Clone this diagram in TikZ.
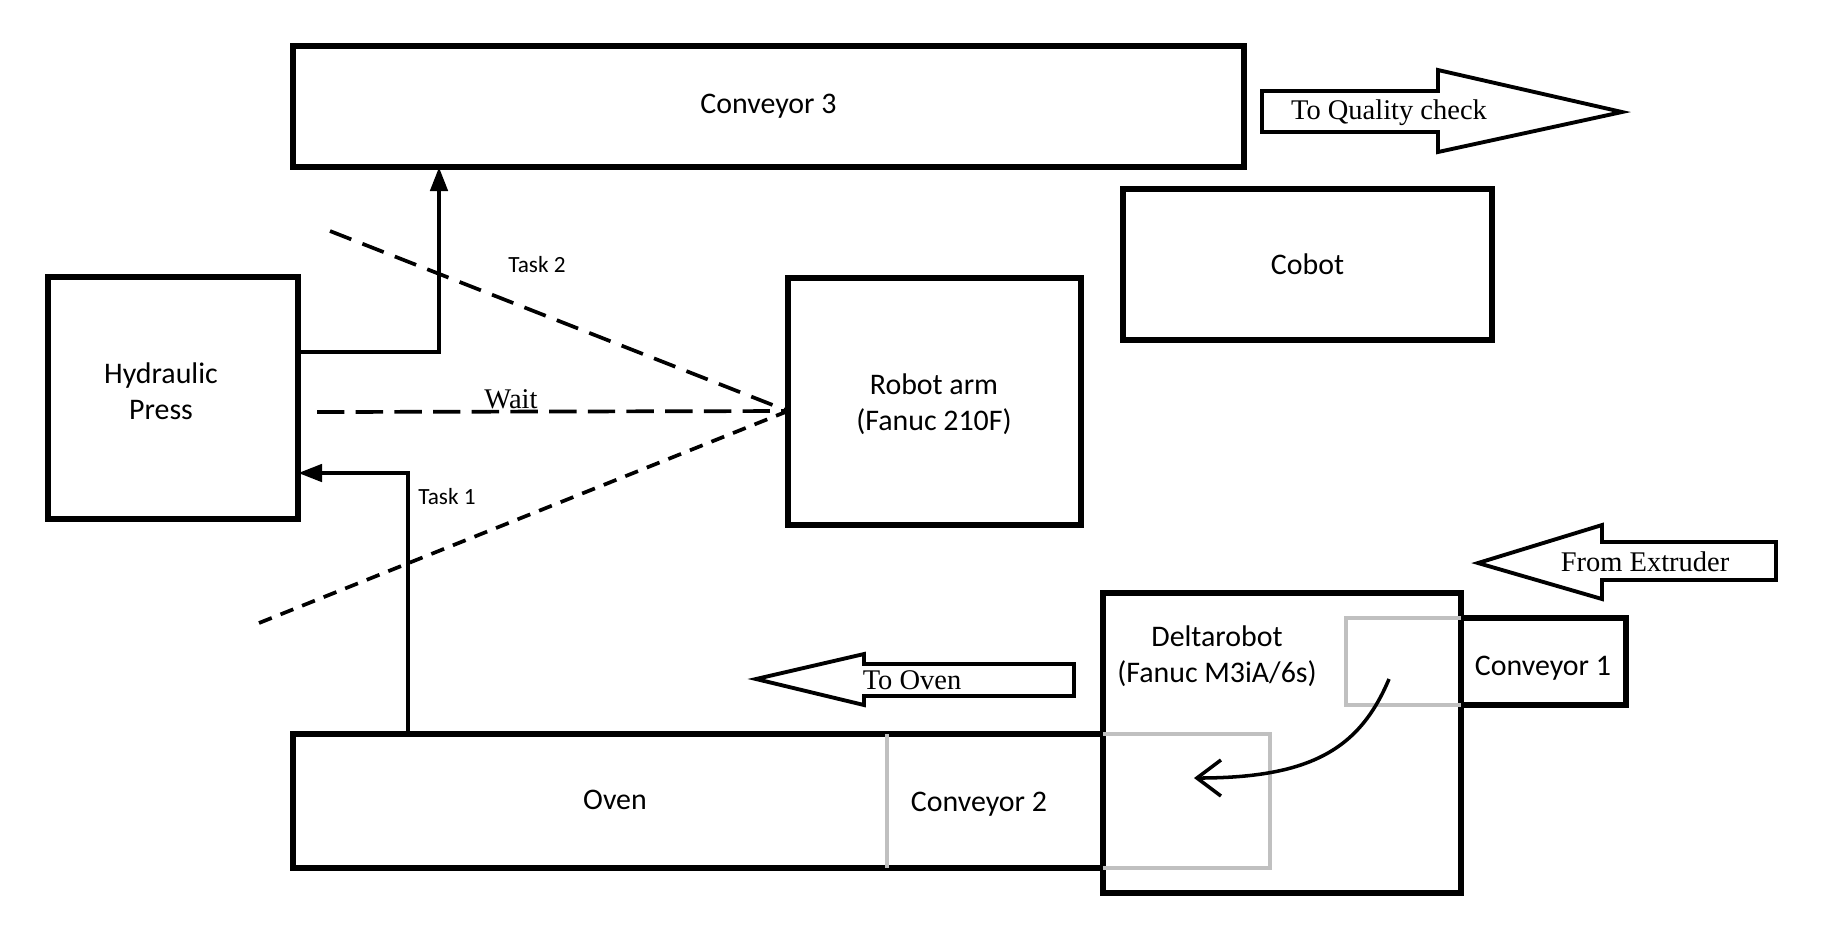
\documentclass[tikz,border=0pt]{standalone}
\usepackage{fontspec}
\setmainfont{Carlito}
\newfontfamily\seriffont{Liberation Serif}
\usepackage{tikz}
\usetikzlibrary{arrows.meta,positioning,fit,calc}
\definecolor{framegrey}{RGB}{192, 192, 192}

\begin{document}
\begin{tikzpicture}[x=0.01cm, y=-0.01cm,
    box/.style={draw, line width=1.5pt, inner sep=0pt, outer sep=0pt},
    boxlabel/.style={align=center, inner sep=0pt, font=\fontsize{8.5}{10.2}\selectfont},
    tasklabel/.style={inner sep=0pt, font=\fontsize{6.6}{8}\selectfont},
    flow/.style={line width=1.3pt, -{Triangle[length=2.4mm,width=1.7mm]}},
    waitline/.style={line width=1.05pt, dash pattern=on 6.5pt off 3.4pt},
    blockarrow/.style={draw, line width=1.1pt, fill=white, line join=miter},
    arrowlabel/.style={inner sep=0pt, font=\seriffont\fontsize{8.1}{9.7}\selectfont},
    greyframe/.style={draw=framegrey, line width=1.2pt}]
    \useasboundingbox (0,0) rectangle (1830,947);

    % Main stations
    \node[box, fit={(293,46) (1244,167)}] (conv3) {};
    \node[boxlabel] (conv3label) at (conv3) {Conveyor 3};
    \node[box, fit={(48,277) (298,519)}] (press) {};
    \node[boxlabel] (presslabel) at (161,391) {Hydraulic\\Press};
    \node[box, fit={(788,278) (1081,525)}] (robot) {};
    \node[boxlabel] (robotlabel) at (934,404) {Robot arm\\(Fanuc 210F)};
    \node[box, fit={(1123,189) (1492,340)}] (cobot) {};
    \node[boxlabel] (cobotlabel) at (cobot) {Cobot};

    % Oven line and delta robot cell
    \node[box, fit={(293,734) (1103,868)}] (oven) {};
    \node[boxlabel] (ovenlabel) at (615,800) {Oven};
    \node[boxlabel] (conv2label) at (979,804) {Conveyor 2};
    \draw[greyframe] (887,734) -- (887,868);
    \node[box, fit={(1103,593) (1461,893)}] (delta) {};
    \node[boxlabel] (deltalabel) at (1217,656) {Deltarobot\\(Fanuc M3iA/6s)};
    \node[box, fit={(1461,618) (1626,705)}] (conv1) {};
    \node[boxlabel] (conv1label) at (1543,668) {Conveyor 1};

    % Pick and place areas
    \draw[greyframe] (delta.east |- conv1.north) -| (1346,705) -- (delta.east |- conv1.south);
    \draw[greyframe] (delta.west |- oven.north) -| (1270,868) -- (delta.west |- oven.south);
    \coordinate (pick) at (1389,679);
    \coordinate (place) at (1194,778);
    \draw[line width=1pt, -{Straight Barb[length=2.4mm,width=3.6mm]}] (pick) .. controls (1360,748) and (1312,778) .. (place);

    % Task flows
    \coordinate (task2) at (439,352);
    \draw[flow] (task2 -| press.east) -- (task2) -- (task2 |- conv3.south);
    \node[tasklabel] (task2label) at (537,265) {Task 2};
    \coordinate (task1) at (408,473);
    \draw[flow] (task1 |- oven.north) -- (task1) -- (task1 -| press.east);
    \node[tasklabel] (task1label) at (447,497) {Task 1};

    % Reach of the robot arm
    \coordinate (fan) at (robot.west |- 0,411);
    \coordinate (fanup) at (330,231);
    \coordinate (fanmid) at (317,412);
    \coordinate (fanlow) at (259,623);
    \draw[waitline] (fanup) -- (fan);
    \draw[waitline, dash pattern=on 7.8pt off 3.2pt] (fanmid) -- (fan);
    \draw[waitline, dash pattern=on 3.9pt off 2.7pt] (fanlow) -- (fan);
    \node[arrowlabel, anchor=base] (waitlabel) at (511,408) {Wait};

    % Material flow arrows
    \draw[blockarrow] (1262,91) -- (1438,91) -- (1438,70) -- (1622,112) -- (1438,152) -- (1438,132) -- (1262,132) -- cycle;
    \node[arrowlabel] (qualitylabel) at (1389,113) {To Quality check};
    \draw[blockarrow] (1074,664) -- (864,664) -- (864,654) -- (756,679) -- (864,705) -- (864,696) -- (1074,696) -- cycle;
    \node[arrowlabel] (ovenarrowlabel) at (912,680) {To Oven};
    \draw[blockarrow] (1776,542) -- (1602,542) -- (1602,525) -- (1478,563) -- (1602,599) -- (1602,580) -- (1776,580) -- cycle;
    \node[arrowlabel] (extruderlabel) at (1645,562) {From Extruder};
\end{tikzpicture}
\end{document}
